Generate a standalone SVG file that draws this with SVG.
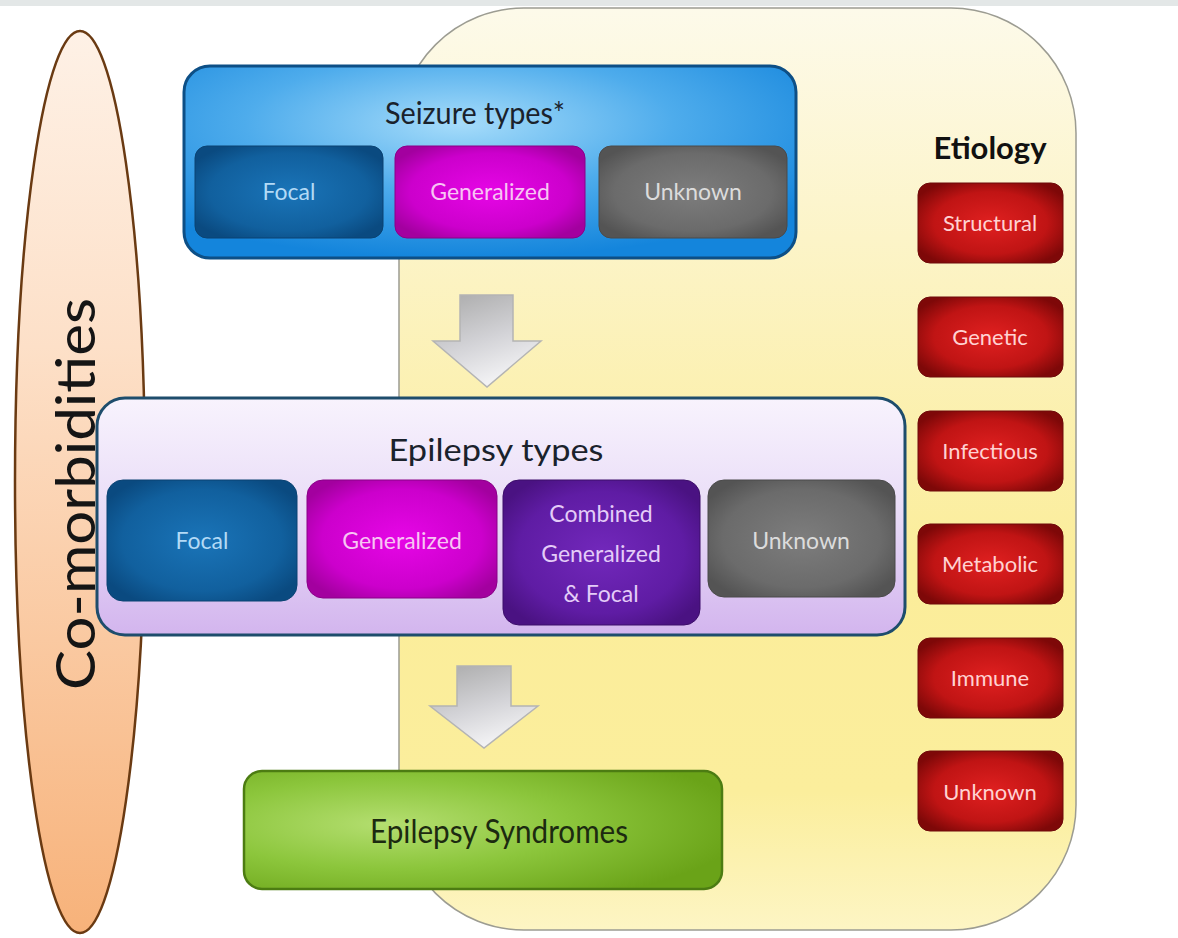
<svg xmlns="http://www.w3.org/2000/svg" width="1178" height="938" viewBox="0 0 1178 938">
<defs>
<linearGradient id="gYellow" x1="0" y1="0" x2="0" y2="1">
<stop offset="0" stop-color="#fdfaea"/>
<stop offset="0.25" stop-color="#fcf4c8"/>
<stop offset="0.6" stop-color="#fbed9a"/>
<stop offset="0.85" stop-color="#fbee9c"/>
<stop offset="1" stop-color="#fdf5c4"/>
</linearGradient>
<linearGradient id="gPeach" x1="0" y1="0" x2="0" y2="1">
<stop offset="0" stop-color="#fef1e6"/>
<stop offset="0.35" stop-color="#fde0c8"/>
<stop offset="1" stop-color="#f7b27a"/>
</linearGradient>
<radialGradient id="gBlueOuter" cx="0.45" cy="0.3" r="0.7">
<stop offset="0" stop-color="#a6dcfa"/>
<stop offset="0.5" stop-color="#4eacec"/>
<stop offset="1" stop-color="#1485dc"/>
</radialGradient>
<linearGradient id="gLav" x1="0" y1="0" x2="0" y2="1">
<stop offset="0" stop-color="#f8f3fd"/>
<stop offset="0.5" stop-color="#e8dbf7"/>
<stop offset="1" stop-color="#d3b5ee"/>
</linearGradient>
<radialGradient id="gFocal" cx="0.5" cy="0.5" r="0.6">
<stop offset="0" stop-color="#1a74b8"/>
<stop offset="0.7" stop-color="#11609e"/>
<stop offset="1" stop-color="#0a4a80"/>
</radialGradient>
<radialGradient id="gGen" cx="0.5" cy="0.5" r="0.6">
<stop offset="0" stop-color="#e606e6"/>
<stop offset="0.7" stop-color="#cc00cc"/>
<stop offset="1" stop-color="#a3009f"/>
</radialGradient>
<radialGradient id="gUnk" cx="0.5" cy="0.5" r="0.6">
<stop offset="0" stop-color="#7d7d7d"/>
<stop offset="0.7" stop-color="#6b6b6b"/>
<stop offset="1" stop-color="#545454"/>
</radialGradient>
<radialGradient id="gComb" cx="0.5" cy="0.5" r="0.6">
<stop offset="0" stop-color="#7228bb"/>
<stop offset="0.7" stop-color="#5f1ca4"/>
<stop offset="1" stop-color="#4a1282"/>
</radialGradient>
<radialGradient id="gRed" cx="0.5" cy="0.5" r="0.6">
<stop offset="0" stop-color="#e02020"/>
<stop offset="0.65" stop-color="#c01414"/>
<stop offset="1" stop-color="#7e0808"/>
</radialGradient>
<radialGradient id="gGreen" cx="0.3" cy="0.45" r="0.75">
<stop offset="0" stop-color="#b4de70"/>
<stop offset="0.5" stop-color="#8cc63c"/>
<stop offset="1" stop-color="#6aa318"/>
</radialGradient>
<linearGradient id="gArrow" x1="0" y1="0" x2="0.4" y2="1">
<stop offset="0" stop-color="#a9a9a9"/>
<stop offset="0.6" stop-color="#d4d4d8"/>
<stop offset="1" stop-color="#f2f2f4"/>
</linearGradient>
<style>
text{font-family:Lato,"Open Sans","Liberation Sans",sans-serif;text-anchor:middle}
.lbl{font-size:23px}
.title{font-size:31px;fill:#1a222c}
.arrow{fill:url(#gArrow);stroke:#b4b4b4;stroke-width:1.5}
.red{fill:url(#gRed);stroke:#6e0a0a;stroke-width:1}
.redt{font-size:22px;fill:#ffd2d2}
</style>
</defs>
<rect x="0" y="0" width="1178" height="938" fill="#ffffff"/>
<rect x="0" y="0" width="1178" height="6" fill="#e3e7e7"/>

<g id="etiology-panel">
<rect x="399" y="8" width="677" height="922" rx="125" ry="125" fill="url(#gYellow)" stroke="#9c9c92" stroke-width="1.5"/>
</g>

<g id="comorbidities">
<ellipse cx="80" cy="482" rx="65" ry="451" fill="url(#gPeach)" stroke="#6a3a12" stroke-width="2.5"/>
<text transform="translate(95,494) rotate(-90)" style="font-size:54px;fill:#151515" textLength="392" lengthAdjust="spacingAndGlyphs">Co-morbidities</text>
</g>

<g id="seizure-types">
<rect x="184" y="66" width="612" height="192" rx="26" fill="url(#gBlueOuter)" stroke="#0d4f86" stroke-width="3"/>
<text x="475" y="124" class="title" textLength="180" lengthAdjust="spacingAndGlyphs">Seizure types*</text>
<g id="seizure-focal">
<rect x="195" y="146" width="188" height="92" rx="12" fill="url(#gFocal)" stroke="#0a4373" stroke-width="1"/>
<text x="289" y="200" class="lbl" fill="#b3daf6">Focal</text>
</g>
<g id="seizure-generalized">
<rect x="395" y="146" width="190" height="92" rx="12" fill="url(#gGen)" stroke="#8a0088" stroke-width="1"/>
<text x="490" y="200" class="lbl" fill="#f8c4f4">Generalized</text>
</g>
<g id="seizure-unknown">
<rect x="599" y="146" width="188" height="92" rx="12" fill="url(#gUnk)" stroke="#4a4a4a" stroke-width="1"/>
<text x="693" y="200" class="lbl" fill="#dcdcdc">Unknown</text>
</g>
</g>

<g id="epilepsy-types">
<rect x="97" y="398" width="808" height="237" rx="28" fill="url(#gLav)" stroke="#1e4d6c" stroke-width="3"/>
<text x="496" y="461" class="title" textLength="215" lengthAdjust="spacingAndGlyphs">Epilepsy types</text>
<g id="ep-focal">
<rect x="107" y="480" width="190" height="121" rx="16" fill="url(#gFocal)" stroke="#0a4373" stroke-width="1"/>
<text x="202" y="549" class="lbl" fill="#b3daf6">Focal</text>
</g>
<g id="ep-generalized">
<rect x="307" y="480" width="190" height="118" rx="16" fill="url(#gGen)" stroke="#8a0088" stroke-width="1"/>
<text x="402" y="549" class="lbl" fill="#f8c4f4">Generalized</text>
</g>
<g id="ep-combined">
<rect x="503" y="480" width="197" height="145" rx="16" fill="url(#gComb)" stroke="#3c0e6a" stroke-width="1"/>
<text x="601" y="522" class="lbl" fill="#e4ccf8">Combined</text>
<text x="601" y="562" class="lbl" fill="#e4ccf8">Generalized</text>
<text x="601" y="602" class="lbl" fill="#e4ccf8">&amp; Focal</text>
</g>
<g id="ep-unknown">
<rect x="708" y="480" width="187" height="117" rx="16" fill="url(#gUnk)" stroke="#4a4a4a" stroke-width="1"/>
<text x="801" y="549" class="lbl" fill="#dcdcdc">Unknown</text>
</g>
</g>

<g id="epilepsy-syndromes">
<rect x="244" y="771" width="478" height="118" rx="18" fill="url(#gGreen)" stroke="#4c7c12" stroke-width="2.5"/>
<text x="499" y="843" style="font-size:32px;fill:#1c2a10" textLength="258" lengthAdjust="spacingAndGlyphs">Epilepsy Syndromes</text>
</g>

<g id="etiology">
<text x="990" y="159" style="font-size:31px;font-weight:bold;fill:#111">Etiology</text>
<g id="et-structural"><rect x="918" y="183" width="145" height="80" rx="12" class="red"/><text x="990" y="231" class="redt">Structural</text></g>
<g id="et-genetic"><rect x="918" y="297" width="145" height="80" rx="12" class="red"/><text x="990" y="345" class="redt">Genetic</text></g>
<g id="et-infectious"><rect x="918" y="411" width="145" height="80" rx="12" class="red"/><text x="990" y="459" class="redt">Infectious</text></g>
<g id="et-metabolic"><rect x="918" y="524" width="145" height="80" rx="12" class="red"/><text x="990" y="572" class="redt">Metabolic</text></g>
<g id="et-immune"><rect x="918" y="638" width="145" height="80" rx="12" class="red"/><text x="990" y="686" class="redt">Immune</text></g>
<g id="et-unknown"><rect x="918" y="751" width="145" height="80" rx="12" class="red"/><text x="990" y="800" class="redt">Unknown</text></g>
</g>

<g id="connectors">
<polygon class="arrow" points="460,295 513,295 513,341 541,341 487,387 433,341 460,341"/>
<polygon class="arrow" points="457,666 511,666 511,706 538,706 484,748 430,706 457,706"/>
</g>
</svg>
